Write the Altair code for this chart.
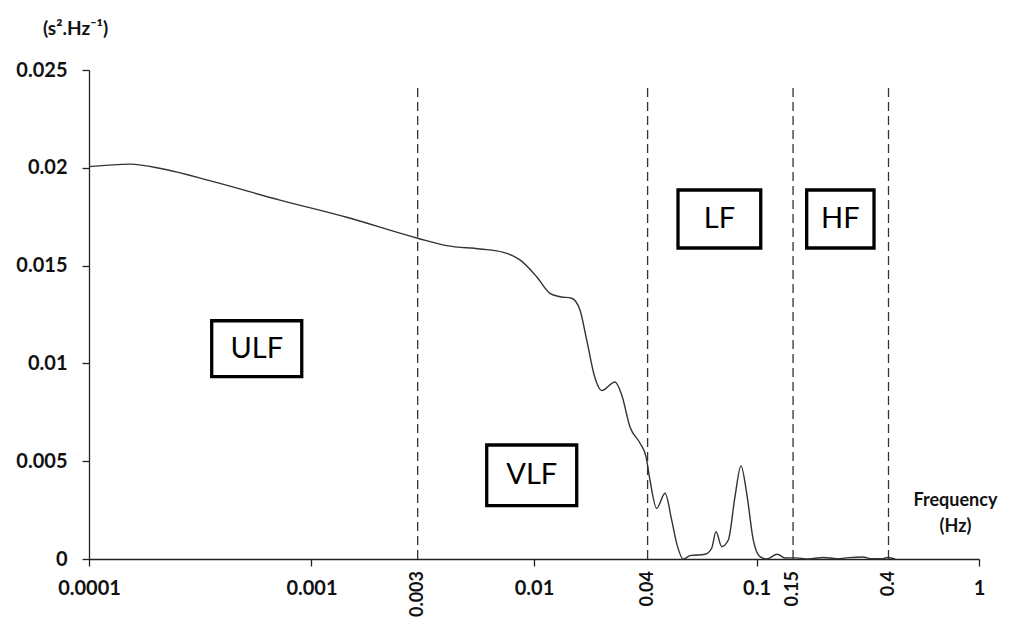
import altair as alt
import pandas as pd
import math

# ---- data ----
freq = [1.0e-4, 1.528e-4, 2.158e-4, 3.62e-4, 7.22e-4, 1.439e-3, 3.0e-3, 4.05e-3, 5.72e-3,
        7.28e-3, 8.65e-3, 0.01028, 0.0118, 0.01309, 0.01477, 0.01609, 0.01725, 0.0188,
        0.02015, 0.02312, 0.02479, 0.02701, 0.02996, 0.03187, 0.0332, 0.0356, 0.0388,
        0.04158, 0.04378, 0.0469, 0.05026, 0.05869, 0.06289, 0.06577, 0.06977, 0.07468,
        0.08005, 0.08517, 0.09035, 0.09674, 0.1037, 0.1111, 0.124, 0.1343, 0.15, 0.17,
        0.2, 0.23, 0.26, 0.3, 0.33, 0.37, 0.39, 0.42]
psd = [0.02006, 0.02019, 0.01994, 0.01929, 0.01835, 0.01747, 0.01640, 0.01602, 0.01585,
       0.01568, 0.01529, 0.01443, 0.01358, 0.01341, 0.01333, 0.01273, 0.01120, 0.00925,
       0.00861, 0.00905, 0.00839, 0.00675, 0.00592, 0.00523, 0.00404, 0.00259, 0.00336,
       0.00199, 0.00080, 0.0, 0.00017, 0.00024, 0.00055, 0.00140, 0.00063, 0.00097,
       0.00319, 0.00476, 0.00336, 0.00097, 0.00012, 0.0, 0.00024, 0.00005, 0.00006, 0.0,
       0.00008, 0.00002, 0.00007, 0.0001, 0.00001, 0.00002, 0.00008, 0.0]

band_edges = [0.003, 0.0324, 0.146, 0.392]
band_edge_labels = ["0.003", "0.04", "0.15", "0.4"]
band_edge_top = 0.02428

band_names = ["ULF", "VLF", "LF", "HF"]
band_x1 = [3.56e-4, 6.13e-3, 0.04438, 0.1681]
band_x2 = [9.04e-4, 0.01556, 0.1045, 0.3374]
band_y1 = [0.00932, 0.002725, 0.0159, 0.0159]
band_y2 = [0.01218, 0.005828, 0.018865, 0.018865]

x_ticks = [0.0001, 0.001, 0.01, 0.1, 1]
y_ticks = [0, 0.005, 0.01, 0.015, 0.02, 0.025]

FONT = "Lato"

curve = pd.DataFrame({"f": freq, "p": psd})
edges = pd.DataFrame({"f": band_edges, "label": band_edge_labels,
                      "y0": [0.0] * len(band_edges), "top": [band_edge_top] * len(band_edges)})
boxes = pd.DataFrame({"name": band_names, "x1": band_x1, "x2": band_x2,
                      "y1": band_y1, "y2": band_y2})
boxes["xc"] = [math.sqrt(a * b) for a, b in zip(band_x1, band_x2)]
boxes["yc"] = [(a + b) / 2 for a, b in zip(band_y1, band_y2)]

xscale = alt.Scale(type="log", domain=[0.0001, 1], nice=False)
yscale = alt.Scale(domain=[0, 0.025], nice=False, zero=False)

xaxis = alt.Axis(values=x_ticks, format="~g", grid=False, labelFlush=False,
                 labelOverlap=False, tickSize=7, tickColor="#222", domainColor="#222",
                 domainWidth=1.3, tickWidth=1.3, labelFont=FONT, labelFontSize=20,
                 labelFontWeight="bold", labelColor="#111", labelPadding=12,
                 title=["Frequency", "(Hz)"], titleFont=FONT, titleFontSize=18,
                 titleFontWeight="bold", titleColor="#111", titleAlign="center",
                 titleBaseline="top", titleX=866, titleY=-68, titleLineHeight=26,
                 titleAngle=0)
yaxis = alt.Axis(values=y_ticks, format="~g", grid=False, tickSize=7, tickColor="#222",
                 domainColor="#222", domainWidth=1.3, tickWidth=1.3, labelFont=FONT,
                 labelFontSize=20, labelFontWeight="bold", labelColor="#111",
                 labelPadding=15, title="(s².Hz⁻¹)", titleFont=FONT, titleFontSize=19,
                 titleFontWeight="bold", titleColor="#111", titleAngle=0,
                 titleAlign="center", titleBaseline="middle", titleX=-14, titleY=-42)

rules = alt.Chart(edges).mark_rule(color="#333", strokeWidth=1.3, strokeDash=[9, 5]).encode(
    x=alt.X("f:Q", scale=xscale, axis=xaxis),
    y=alt.Y("y0:Q", scale=yscale, axis=yaxis),
    y2="top:Q",
)

line = alt.Chart(curve).mark_line(color="#333", strokeWidth=1.4, interpolate="monotone").encode(
    x=alt.X("f:Q", scale=xscale),
    y=alt.Y("p:Q", scale=yscale),
)

rects = alt.Chart(boxes).mark_rect(fill="white", stroke="black", strokeWidth=3.3).encode(
    x=alt.X("x1:Q", scale=xscale), x2="x2:Q",
    y=alt.Y("y1:Q", scale=yscale), y2="y2:Q",
)

box_text = alt.Chart(boxes).mark_text(font=FONT, fontSize=29, color="black",
                                      align="center", baseline="middle").encode(
    x=alt.X("xc:Q", scale=xscale),
    y=alt.Y("yc:Q", scale=yscale),
    text="name:N",
)

edge_labels = alt.Chart(edges).mark_text(font=FONT, fontSize=18, fontWeight="bold",
                                         color="#111", angle=270, align="right",
                                         baseline="middle", dx=-12).encode(
    x=alt.X("f:Q", scale=xscale),
    y=alt.Y("y0:Q", scale=yscale),
    text="label:N",
)

chart = alt.layer(rules, line, rects, box_text, edge_labels).properties(
    width=890, height=489,
    autosize=alt.AutoSizeParams(type="none"),
    padding={"left": 81, "top": 62, "right": 21, "bottom": 60},
).configure_view(stroke=None)

chart.save("out.html", embed_options={"renderer": "svg", "actions": False})
